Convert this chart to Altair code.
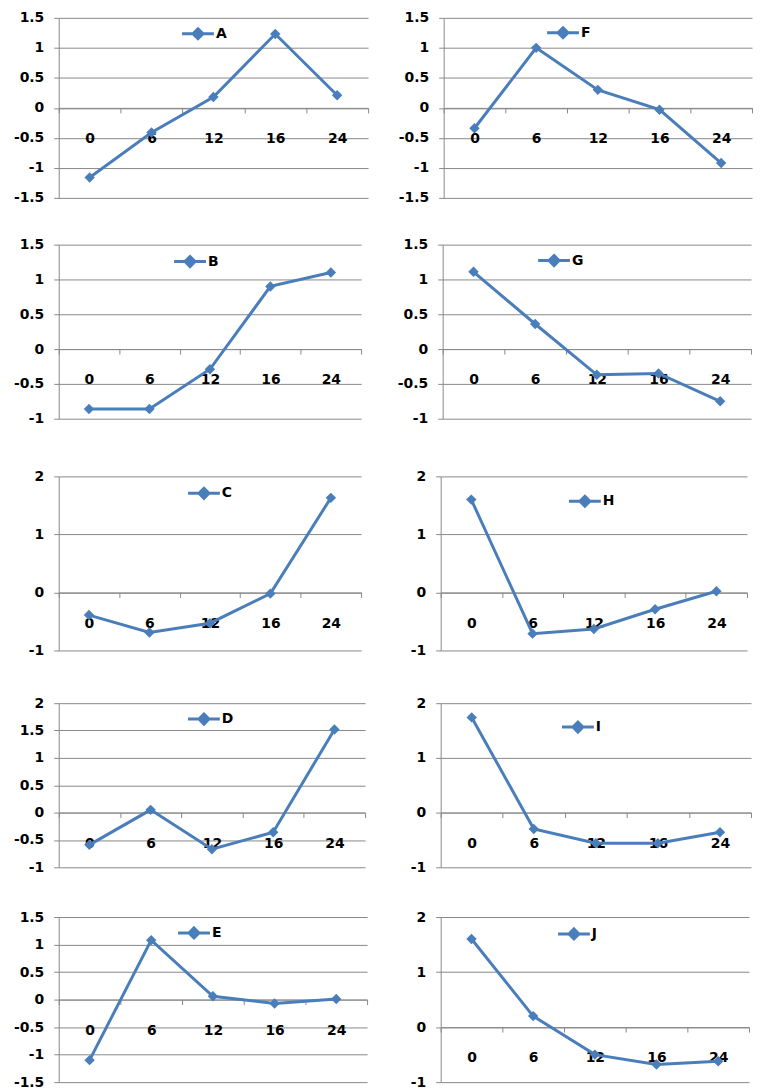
import altair as alt
import pandas as pd

hours = ["0", "6", "12", "16", "24"]

values_A = [-1.16, -0.41, 0.18, 1.23, 0.21]
values_B = [-0.86, -0.86, -0.29, 0.90, 1.10]
values_C = [-0.39, -0.69, -0.53, -0.02, 1.63]
values_D = [-0.59, 0.05, -0.67, -0.36, 1.52]
values_E = [-1.10, 1.08, 0.06, -0.07, 0.01]
values_F = [-0.34, 1.00, 0.30, -0.03, -0.92]
values_G = [1.11, 0.36, -0.37, -0.35, -0.75]
values_H = [1.60, -0.71, -0.63, -0.29, 0.02]
values_I = [1.74, -0.30, -0.56, -0.56, -0.36]
values_J = [1.60, 0.20, -0.50, -0.68, -0.62]

ticks_pm15 = [-1.5, -1, -0.5, 0, 0.5, 1, 1.5]
ticks_m1_15 = [-1, -0.5, 0, 0.5, 1, 1.5]
ticks_m1_2 = [-1, 0, 1, 2]
ticks_m1_2_half = [-1, -0.5, 0, 0.5, 1, 1.5, 2]

BLUE = "#4A7EBB"
GRID = "#888888"
FONT = "DejaVu Sans"
FS = 14


def panel(name, vals, ticks, height, width, ext, lx, ly):
    ymin, ymax = ticks[0], ticks[-1]
    df = pd.DataFrame({"hour": hours, "value": vals, "series": [name] * len(hours)})
    zero_from_bottom = height * (0 - ymin) / (ymax - ymin)
    x = alt.X(
        "hour:N", sort=hours, bandPosition=0.5,
        scale=alt.Scale(type="band", paddingInner=0, paddingOuter=0),
        axis=alt.Axis(title=None, labelAngle=0, offset=-zero_from_bottom,
                      tickBand="extent", tickSize=5, labelPadding=19,
                      domainColor=GRID, tickColor=GRID, grid=False,
                      labelFont=FONT, labelFontSize=FS, labelFontWeight="bold",
                      labelColor="black"),
    )
    y = alt.Y(
        "value:Q",
        scale=alt.Scale(domain=[ymin, ymax], nice=False, zero=False),
        axis=alt.Axis(title=None, values=ticks, labelExpr="'' + datum.value",
                      grid=True, gridColor=GRID, domainColor=GRID, tickColor=GRID,
                      tickSize=5, labelPadding=10, minExtent=ext, maxExtent=ext,
                      labelFont=FONT, labelFontSize=FS, labelFontWeight="bold",
                      labelColor="black"),
    )
    base = alt.Chart(df).encode(x=x, y=y)
    line = base.mark_line(color=BLUE, strokeWidth=3)
    pts = base.mark_point(shape="diamond", filled=True, size=110, opacity=1).encode(
        color=alt.Color(
            "series:N",
            scale=alt.Scale(range=[BLUE]),
            legend=alt.Legend(
                title=None, orient="none", legendX=lx, legendY=ly,
                symbolType="M-3.2,0H3.2M0,-1L1,0L0,1L-1,0Z", symbolSize=100,
                symbolStrokeWidth=3, symbolStrokeColor=BLUE, symbolFillColor=BLUE,
                symbolOpacity=1, labelFont=FONT, labelFontSize=FS,
                labelFontWeight="bold", labelColor="black", labelOffset=11,
                padding=0,
            ),
        )
    )
    return alt.layer(line, pts).properties(width=width, height=height)


heights = [181, 175, 175, 165, 166]

left = [
    panel("A", values_A, ticks_pm15, heights[0], 311, 46, 133, 9),
    panel("B", values_B, ticks_m1_15, heights[1], 304, 50, 125, 10),
    panel("C", values_C, ticks_m1_2, heights[2], 304, 51, 139, 10),
    panel("D", values_D, ticks_m1_2_half, heights[3], 308, 47, 139, 9),
    panel("E", values_E, ticks_pm15, heights[4], 310, 47, 129, 9),
]
right = [
    panel("F", values_F, ticks_pm15, heights[0], 310, 65, 113, 8),
    panel("G", values_G, ticks_m1_15, heights[1], 310, 71, 105, 9),
    panel("H", values_H, ticks_m1_2, heights[2], 308, 69, 138, 18),
    panel("I", values_I, ticks_m1_2, heights[3], 312, 65, 131, 17),
    panel("J", values_J, ticks_m1_2, heights[4], 310, 63, 127, 10),
]


def indep(c):
    return c.resolve_scale(
        x="independent", y="independent", color="independent"
    ).resolve_legend(color="independent")


rows = [indep(alt.hconcat(l, r, spacing=10)) for l, r in zip(left, right)]

lower = indep(alt.vconcat(rows[3], rows[4], spacing=36))
lower = indep(alt.vconcat(rows[2], lower, spacing=39))
lower = indep(alt.vconcat(rows[1], lower, spacing=44))
chart = (
    indep(alt.vconcat(rows[0], lower, spacing=33))
    .properties(padding=0)
    .configure_view(stroke=None)
)

chart.save("out.html", embed_options={"renderer": "svg", "actions": False})
